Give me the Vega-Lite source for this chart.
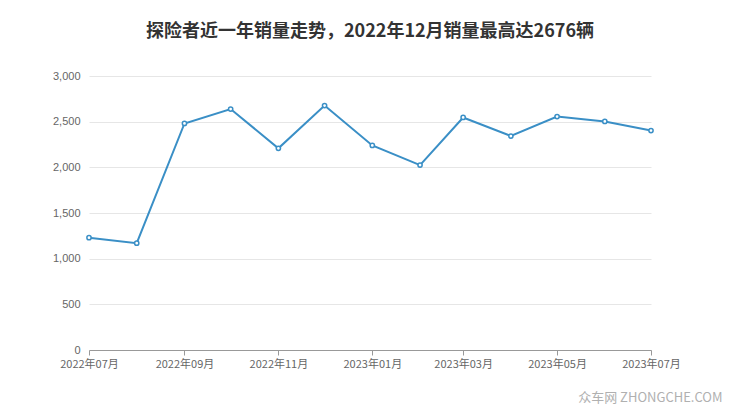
{
  "$schema": "https://vega.github.io/schema/vega-lite/v6.json",
  "width": 562,
  "height": 274,
  "autosize": {"type": "none"},
  "padding": {"left": 89, "top": 76, "right": 89, "bottom": 67},
  "background": "white",
  "config": {
    "view": {"stroke": null},
    "font": "Noto Sans CJK SC"
  },
  "title": {
    "text": "探险者近一年销量走势，2022年12月销量最高达2676辆",
    "fontSize": 18,
    "fontWeight": "bold",
    "color": "#333333",
    "anchor": "middle",
    "offset": 29,
    "font": "Noto Sans CJK SC"
  },
  "data": {
    "values": [
      {"month": "2022-07-01", "sales": 1230},
      {"month": "2022-08-01", "sales": 1170},
      {"month": "2022-09-01", "sales": 2480},
      {"month": "2022-10-01", "sales": 2638},
      {"month": "2022-11-01", "sales": 2208},
      {"month": "2022-12-01", "sales": 2676},
      {"month": "2023-01-01", "sales": 2240},
      {"month": "2023-02-01", "sales": 2025},
      {"month": "2023-03-01", "sales": 2546},
      {"month": "2023-04-01", "sales": 2343},
      {"month": "2023-05-01", "sales": 2556},
      {"month": "2023-06-01", "sales": 2502},
      {"month": "2023-07-01", "sales": 2403}
    ]
  },
  "encoding": {
    "x": {
      "field": "month",
      "type": "temporal",
      "scale": {"domain": ["2022-07-01", "2023-07-01"]},
      "axis": {
        "format": "%Y年%m月",
        "values": ["2022-07-01", "2022-09-01", "2022-11-01", "2023-01-01", "2023-03-01", "2023-05-01", "2023-07-01"],
        "grid": false,
        "domainColor": "#999999",
        "tickColor": "#999999",
        "tickSize": 5,
        "labelColor": "#666666",
        "labelFontSize": 11,
        "labelFont": "Noto Sans CJK SC",
        "labelPadding": 3,
        "labelFlush": false,
        "labelOverlap": false,
        "title": "众车网  ZHONGCHE.COM",
        "titleColor": "#b0b0b0",
        "titleFontSize": 13,
        "titleFontWeight": "normal",
        "titleAlign": "right",
        "titleAnchor": "end",
        "titleBaseline": "top",
        "titleX": 633,
        "titleY": 41,
        "titleFont": "Noto Sans CJK SC"
      }
    },
    "y": {
      "field": "sales",
      "type": "quantitative",
      "scale": {"domain": [0, 3000]},
      "axis": {
        "values": [0, 500, 1000, 1500, 2000, 2500, 3000],
        "format": ",d",
        "domain": false,
        "ticks": false,
        "gridColor": "#e6e6e6",
        "labelColor": "#666666",
        "labelFontSize": 11,
        "labelFont": "Liberation Sans",
        "labelPadding": 9,
        "title": null
      }
    }
  },
  "layer": [
    {
      "mark": {"type": "line", "color": "#3a8fc6", "strokeWidth": 2}
    },
    {
      "transform": [{"filter": "datum.month != '2023-07-01'"}],
      "mark": {"type": "point", "shape": "circle", "filled": true, "fill": "white", "stroke": "#3a8fc6", "strokeWidth": 1.5, "size": 18, "opacity": 1}
    }
  ]
}
